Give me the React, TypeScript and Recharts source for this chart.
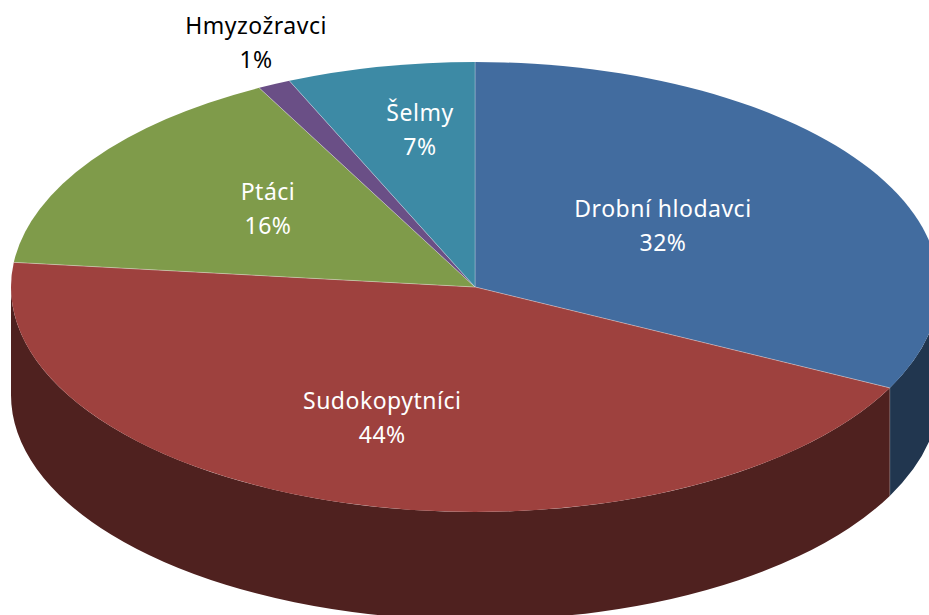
import { Cell, Pie, PieChart } from "recharts";

const categories = ["Drobní hlodavci", "Sudokopytníci", "Ptáci", "Hmyzožravci", "Šelmy"];
const shares = [32.4, 44.35, 15.55, 1.15, 6.55];

const TOP_COLORS = ["#426C9F", "#9E413E", "#7F9B4A", "#6A4F86", "#3D8AA5"];
const SIDE_COLORS = ["#21364F", "#4F211F", "#3F4D25", "#352743", "#1E4552"];
const LABEL_COLORS = ["#fff", "#fff", "#fff", "#000", "#fff"];
// how far out each label sits, as a fraction of the ellipse radii
const LABEL_PULL = [
  [0.476, 0.507],
  [0.705, 0.61],
  [0.54, 0.61],
  [1.09, 1.2],
  [0.58, 0.71],
];

const CX = 475;
const CY = 287;
const RX = 464;
const RY = 225;
const DEPTH = 108;
const RADIAN = Math.PI / 180;
const FONT = "'Noto Sans', sans-serif";

const data = categories.map((name, i) => ({ name, value: shares[i] }));

const point = (angle: number) => ({
  x: CX + RX * Math.cos(angle * RADIAN),
  y: CY - RY * Math.sin(angle * RADIAN),
});

// Recharts works on a circle, so the sectors are squashed into an ellipse here
const TopSlice = ({ startAngle, endAngle, fill }: any) => {
  const a = point(startAngle);
  const b = point(endAngle);
  const large = startAngle - endAngle > 180 ? 1 : 0;
  return (
    <g>
      <path
        d={`M${CX},${CY} L${a.x},${a.y} A${RX},${RY} 0 ${large} 1 ${b.x},${b.y} Z`}
        fill={fill}
      />
      <path
        d={`M${a.x},${a.y} L${CX},${CY} L${b.x},${b.y}`}
        fill="none"
        stroke="#fff"
        strokeOpacity={0.35}
        strokeWidth={0.75}
      />
    </g>
  );
};

// only the front half of the pie shows a wall (angles 0 to -180)
const SideSlice = ({ startAngle, endAngle, fill }: any) => {
  const from = Math.min(startAngle, 0);
  const to = Math.max(endAngle, -180);
  if (from <= to) return null;
  const a = point(from);
  const b = point(to);
  return (
    <g>
      <path
        d={`M${a.x},${a.y} A${RX},${RY} 0 0 1 ${b.x},${b.y} L${b.x},${b.y + DEPTH} A${RX},${RY} 0 0 0 ${a.x},${a.y + DEPTH} Z`}
        fill={fill}
      />
      {endAngle > -180 && (
        <line x1={b.x} y1={b.y} x2={b.x} y2={b.y + DEPTH} stroke="#fff" strokeOpacity={0.4} strokeWidth={0.75} />
      )}
    </g>
  );
};

const renderLabel = ({ midAngle, percent, name, index }: any) => {
  const [px, py] = LABEL_PULL[index];
  const x = CX + RX * px * Math.cos(midAngle * RADIAN);
  const y = CY - RY * py * Math.sin(midAngle * RADIAN);
  return (
    <text
      x={x}
      y={y}
      textAnchor="middle"
      fill={LABEL_COLORS[index]}
      fontFamily={FONT}
      fontSize={23}
      letterSpacing={0.5}
    >
      <tspan x={x} dy={-10}>
        {name}
      </tspan>
      <tspan x={x} dy={34}>
        {(percent * 100).toFixed(0)}%
      </tspan>
    </text>
  );
};

export default function App() {
  return (
    <div style={{ position: "absolute", left: 0, top: 0, width: 929, height: 615, overflow: "hidden", background: "#fff" }}>
      <PieChart width={929} height={615} margin={{ top: 0, right: 0, bottom: 0, left: 0 }}>
        <Pie
          data={data}
          dataKey="value"
          nameKey="name"
          cx={CX}
          cy={CY}
          outerRadius={RX}
          startAngle={90}
          endAngle={-270}
          stroke="none"
          shape={SideSlice}
          isAnimationActive={false}
        >
          {data.map((_, i) => (
            <Cell key={i} fill={SIDE_COLORS[i]} />
          ))}
        </Pie>
        <Pie
          data={data}
          dataKey="value"
          nameKey="name"
          cx={CX}
          cy={CY}
          outerRadius={RX}
          startAngle={90}
          endAngle={-270}
          stroke="none"
          shape={TopSlice}
          label={renderLabel}
          labelLine={false}
          isAnimationActive={false}
        >
          {data.map((_, i) => (
            <Cell key={i} fill={TOP_COLORS[i]} />
          ))}
        </Pie>
      </PieChart>
    </div>
  );
}
